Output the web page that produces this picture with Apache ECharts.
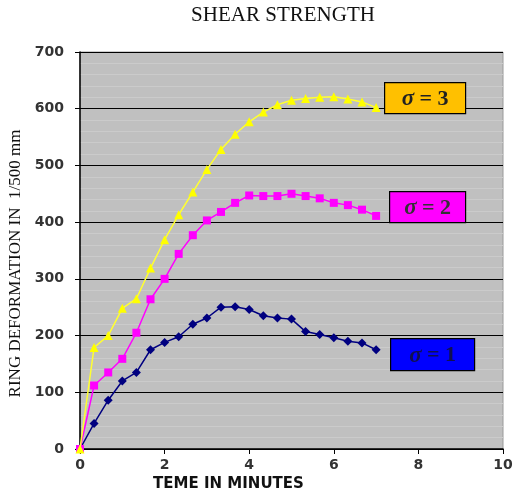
<!DOCTYPE html>
<html>
<head>
<meta charset="utf-8">
<script src="https://cdn.jsdelivr.net/npm/echarts@6/dist/echarts.min.js"></script>
<style>html,body{margin:0;padding:0;background:#fff}#c{width:513px;height:490px}</style>
</head>
<body>
<div id="c"></div>
<script>
var times = [0, 0.333, 0.667, 1, 1.333, 1.667, 2, 2.333, 2.667, 3, 3.333, 3.667, 4, 4.333, 4.667, 5, 5.333, 5.667, 6, 6.333, 6.667, 7];
var sigma1 = [0, 45, 86, 120, 135, 175, 188, 198, 220, 231, 250, 251, 246, 235, 231, 229, 207, 202, 196, 190, 187, 175];
var sigma2 = [0, 112, 135, 159, 205, 264, 300, 344, 377, 403, 418, 434, 447, 446, 446, 450, 446, 442, 434, 430, 422, 411];
var sigma3 = [0, 179, 200, 248, 265, 319, 369, 413, 453, 493, 528, 555, 577, 594, 607, 615, 618, 620, 621, 617, 612, 602];
var seriesNames = ['σ = 1', 'σ = 2', 'σ = 3'];
var boxTexts = ['3', '2', '1'];

function pairs(v){ return times.map(function(t,i){ return [t, v[i]]; }); }

var chart = echarts.init(document.getElementById('c'), null, {renderer:'canvas'});

function box(x, y, w, h, fill, txt, txtColor){
  return {
    type: 'group', left: x, top: y, z: 100,
    children: [
      {type:'rect', z: 100, shape:{x:0,y:0,width:w,height:h}, style:{fill:fill, stroke:'#000', lineWidth:1.2}},
      {type:'text', z: 101, x: w/2, y: h/2 + 1, style:{
        text: '{s|σ} = ' + txt, align:'center', verticalAlign:'middle',
        fill: txtColor, font: 'bold 22px "Liberation Serif"',
        rich: {s:{fontStyle:'italic', fontWeight:'bold', fontSize:23, fontFamily:'Liberation Serif', fill: txtColor}}
      }}
    ]
  };
}

chart.setOption({
  animation: false,
  backgroundColor: '#fff',
  title: {
    text: 'SHEAR STRENGTH', left: 278, top: 0, textAlign: 'center',
    textStyle: {fontFamily: 'Liberation Serif', fontWeight: 'normal', fontSize: 21, color: '#111'}
  },
  grid: {left: 80, right: 10, top: 52, bottom: 41, show: true, containLabel: false, outerBoundsMode: 'none',
         backgroundColor: '#c0c0c0', borderColor: '#9a9a9a', borderWidth: 1},
  xAxis: {
    type: 'value', min: 0, max: 10, interval: 2,
    name: 'TEME IN MINUTES', nameLocation: 'middle', nameGap: 28,
    nameTextStyle: {fontFamily: 'DejaVu Sans', fontWeight: 'bold', fontSize: 15, color: '#111', padding: [0, 126, 0, 0]},
    axisLine: {show: true, onZero: false, lineStyle: {color: '#000', width: 1.5}},
    axisTick: {show: true, length: 5, lineStyle: {color: '#000'}},
    axisLabel: {fontFamily: 'DejaVu Sans', fontWeight: 'bold', fontSize: 14, color: '#333', margin: 9},
    splitLine: {show: false}
  },
  yAxis: {
    type: 'value', min: 0, max: 700, interval: 100,
    name: 'RING DEFORMATION IN  1/500 mm', nameLocation: 'middle', nameGap: 55, nameRotate: 90,
    nameTextStyle: {fontFamily: 'Liberation Serif', fontSize: 17, color: '#111', padding: [0, 26, 0, 0]},
    axisLine: {show: true, lineStyle: {color: '#000', width: 1.5}},
    axisTick: {show: true, length: 5, lineStyle: {color: '#000'}},
    axisLabel: {fontFamily: 'DejaVu Sans', fontWeight: 'bold', fontSize: 14, color: '#333', margin: 16},
    splitLine: {show: true, lineStyle: {color: '#000', width: 1.2}},
    minorTick: {show: false, splitNumber: 5},
    minorSplitLine: {show: true, lineStyle: {color: '#cbcbcb', width: 1}}
  },
  series: [
    {name: seriesNames[0], type: 'line', data: pairs(sigma1), symbol: 'diamond', symbolSize: 9,
     itemStyle: {color: '#000080'}, lineStyle: {color: '#000080', width: 1.5}, z: 3},
    {name: seriesNames[1], type: 'line', data: pairs(sigma2), symbol: 'rect', symbolSize: 8,
     itemStyle: {color: '#ff00ff'}, lineStyle: {color: '#ff00ff', width: 1.5}, z: 4},
    {name: seriesNames[2], type: 'line', data: pairs(sigma3), symbol: 'triangle', symbolSize: 9,
     itemStyle: {color: '#ffff00'}, lineStyle: {color: '#ffff30', width: 1.5}, z: 5}
  ],
  graphic: [
    box(384, 82, 81, 31, '#ffc000', boxTexts[0], '#222'),
    box(389, 191, 76, 31, '#ff00ff', boxTexts[1], '#333'),
    box(390, 338, 84, 32, '#0000ff', boxTexts[2], '#101050')
  ]
});
</script>
</body>
</html>
